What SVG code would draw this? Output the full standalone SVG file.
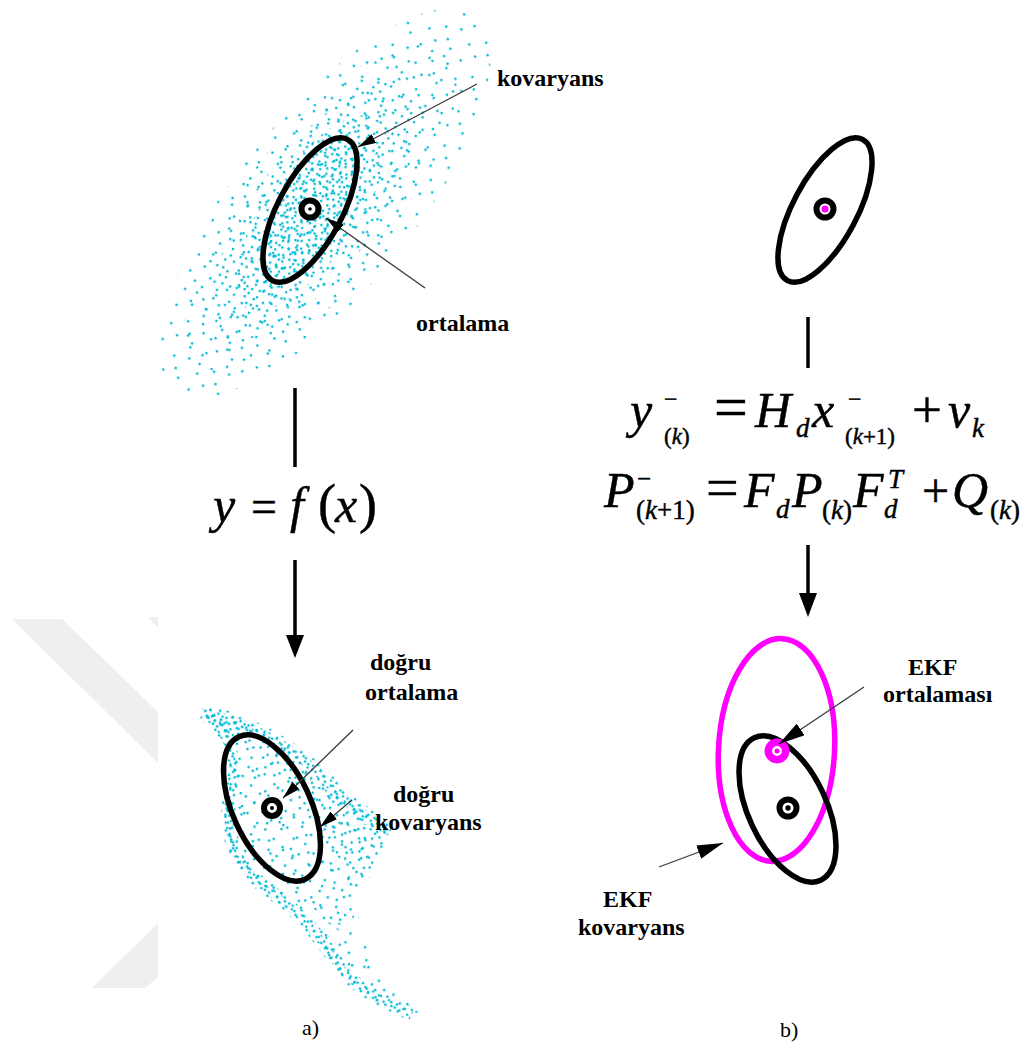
<svg xmlns="http://www.w3.org/2000/svg" width="1027" height="1048" viewBox="0 0 1027 1048">
<style>
.lbl{font-family:"Liberation Serif","Times New Roman",serif;font-weight:bold;font-size:24px;fill:#000}
.cap{font-family:"Liberation Serif","Times New Roman",serif;font-size:22px;fill:#000}
.m{font-family:"Liberation Serif","Times New Roman",serif;fill:#000;stroke:#000;stroke-width:0.45}
.i{font-style:italic}
.ell{fill:none;stroke:#000;stroke-width:5.5}
.ring{fill:#fff;stroke:#000;stroke-width:6}
.ptr{stroke:#3a3a3a;stroke-width:1.3;fill:none}
.bar{stroke:#000;stroke-width:3.5}
.wm{fill:#efefef}
.d{fill:#08bcd6}
</style>
<defs>
<pattern id="pA" width="41" height="37" patternUnits="userSpaceOnUse" patternTransform="rotate(17)">
<g class="d"><rect x="3" y="5" width="2.3" height="2.3"/><rect x="19" y="2" width="2.3" height="2.3"/><rect x="33" y="12" width="2.3" height="2.3"/><rect x="10" y="21" width="2.3" height="2.3"/><rect x="26" y="26" width="2.3" height="2.3"/><rect x="37" y="31" width="2.3" height="2.3"/><rect x="15" y="33" width="2.3" height="2.3"/></g>
</pattern>
<pattern id="pE" width="37" height="43" patternUnits="userSpaceOnUse" patternTransform="rotate(73)">
<g class="d"><rect x="5" y="2" width="2.3" height="2.3"/><rect x="22" y="7" width="2.3" height="2.3"/><rect x="31" y="19" width="2.3" height="2.3"/><rect x="13" y="17" width="2.3" height="2.3"/><rect x="2" y="30" width="2.3" height="2.3"/><rect x="24" y="33" width="2.3" height="2.3"/><rect x="16" y="39" width="2.3" height="2.3"/></g>
</pattern>
<pattern id="pB" width="31" height="29" patternUnits="userSpaceOnUse" patternTransform="rotate(-23)">
<g class="d"><rect x="2" y="3" width="2.3" height="2.3"/><rect x="16" y="8" width="2.3" height="2.3"/><rect x="27" y="2" width="2.3" height="2.3"/><rect x="7" y="16" width="2.3" height="2.3"/><rect x="21" y="19" width="2.3" height="2.3"/><rect x="12" y="25" width="2.3" height="2.3"/><rect x="28" y="24" width="2.3" height="2.3"/></g>
</pattern>
<pattern id="pC" width="23" height="19" patternUnits="userSpaceOnUse" patternTransform="rotate(41)">
<g class="d"><rect x="1" y="2" width="2.3" height="2.3"/><rect x="12" y="5" width="2.3" height="2.3"/><rect x="19" y="12" width="2.3" height="2.3"/><rect x="6" y="13" width="2.3" height="2.3"/><rect x="15" y="16" width="2.3" height="2.3"/></g>
</pattern>
<pattern id="pD" width="15" height="14" patternUnits="userSpaceOnUse" patternTransform="rotate(-61)">
<g class="d"><rect x="2" y="1" width="2.3" height="2.3"/><rect x="9" y="4" width="2.3" height="2.3"/><rect x="5" y="9" width="2.3" height="2.3"/><rect x="12" y="11" width="2.3" height="2.3"/></g>
</pattern>
<pattern id="pF" width="9" height="8" patternUnits="userSpaceOnUse" patternTransform="rotate(29)">
<g class="d"><rect x="1" y="1" width="2.3" height="2.3"/><rect x="5" y="5" width="2.3" height="2.3"/></g>
</pattern>
<marker id="ah" markerUnits="userSpaceOnUse" markerWidth="18" markerHeight="10" refX="18" refY="5" orient="auto" viewBox="0 0 18 10"><path d="M0,0 L18,5 L0,10 z" fill="#000"/></marker>
<marker id="ahL" markerUnits="userSpaceOnUse" markerWidth="26" markerHeight="14" refX="26" refY="7" orient="auto" viewBox="0 0 26 14"><path d="M0,0 L26,7 L0,14 z" fill="#000"/></marker>
</defs>
<rect width="1027" height="1048" fill="#fff"/>
<g id="watermark">
<polygon class="wm" points="12,619 62,619 158,712 158,763"/>
<polygon class="wm" points="148,617 158,617 158,628"/>
<polygon class="wm" points="158,923 92,988 145,988 158,977"/>
</g>
<g id="cloud-top">
<ellipse cx="325" cy="203" rx="88" ry="240" transform="rotate(39 325 203)" fill="url(#pE)"/>
<ellipse cx="320" cy="207" rx="75" ry="200" transform="rotate(38 320 207)" fill="url(#pA)"/>
<ellipse cx="315" cy="211" rx="60" ry="155" transform="rotate(37 315 211)" fill="url(#pB)"/>
<ellipse cx="311" cy="213" rx="46" ry="115" transform="rotate(35 311 213)" fill="url(#pC)"/>
<ellipse cx="309" cy="213" rx="32" ry="85" transform="rotate(31 309 213)" fill="url(#pD)"/>
</g>
<g id="cloud-bottom">
<polygon fill="url(#pA)" points="202,712 243,723 287,747 310,773 347,800 390,830 377,863 360,897 358,925 375,955 395,985 420,1012 405,1015 367,997 340,980 327,957 307,930 287,907 260,887 243,870 227,850 222,823 228,790 237,750"/>
<polygon fill="url(#pB)" points="202,712 243,723 287,747 310,773 347,800 390,830 377,863 360,897 350,930 330,920 300,900 260,887 243,870 227,850 222,823 228,790 237,750"/>
<polygon fill="url(#pC)" points="243,723 287,747 310,773 347,800 390,830 377,863 360,880 330,850 300,800 260,750"/>
<polygon fill="url(#pE)" points="300,900 340,930 360,960 400,1000 380,1005 340,975 320,945"/>
<path d="M204,713 C232,735 236,760 230,795 C224,830 232,862 268,890 C300,912 318,935 335,960 C350,985 380,1000 412,1014" fill="none" stroke="url(#pF)" stroke-width="8"/>
<path d="M204,713 C232,735 236,760 230,795 C224,830 232,862 268,890 C300,912 318,935 335,960 C350,985 380,1000 412,1014" fill="none" stroke="url(#pD)" stroke-width="14"/>
<path d="M202,712 C250,722 300,750 335,790 C355,810 375,822 390,832" fill="none" stroke="url(#pF)" stroke-width="9"/>
<path d="M202,712 C250,722 300,750 335,790 C355,810 375,822 390,832" fill="none" stroke="url(#pD)" stroke-width="16"/>
<path d="M204,713 L245,727 L238,745 Z" fill="url(#pF)"/>
</g>
<g id="ellipse-top-left">
<ellipse class="ell" cx="310" cy="210" rx="32" ry="80" transform="rotate(28 310 210)"/>
<circle class="ring" cx="310" cy="209" r="8.5"/>
<circle cx="310" cy="209" r="1.8" fill="#000"/>
</g>
<g id="ellipse-top-right">
<ellipse class="ell" cx="825" cy="210" rx="32" ry="80" transform="rotate(28 825 210)"/>
<circle class="ring" cx="825" cy="209" r="8.5"/>
<circle cx="825" cy="209" r="3.5" fill="#ff00ff"/>
</g>
<g id="ellipse-bottom-left">
<ellipse class="ell" cx="272" cy="808" rx="39" ry="78.5" transform="rotate(-25 272 808)"/>
<circle class="ring" cx="272" cy="808" r="8"/>
<circle cx="272" cy="808" r="2" fill="#000"/>
</g>
<g id="ellipse-bottom-right">
<ellipse cx="776.5" cy="750" rx="58" ry="111.5" transform="rotate(3 776.5 750)" fill="none" stroke="#ff00ff" stroke-width="5.5"/>
<ellipse class="ell" cx="787.5" cy="809" rx="39" ry="78.5" transform="rotate(-25 787.5 809)"/>
<circle class="ring" cx="788" cy="808" r="8.5"/>
<circle cx="788" cy="808" r="2.7" fill="#000"/>
<circle cx="777" cy="751" r="8.7" fill="#fff" stroke="#ff00ff" stroke-width="7.5"/>
<circle cx="777" cy="751" r="2.5" fill="#ff00ff"/>
</g>
<g id="connectors">
<polyline class="ptr" points="477,84 462,92 358,147" marker-end="url(#ah)"/>
<line class="ptr" x1="425" y1="288" x2="326" y2="218" marker-end="url(#ah)"/>
<line class="ptr" x1="353" y1="730" x2="283" y2="798" marker-end="url(#ah)"/>
<line class="ptr" x1="352" y1="800" x2="320" y2="827" marker-end="url(#ah)"/>
<line class="ptr" x1="864" y1="687" x2="779" y2="744" marker-end="url(#ahL)"/>
<line class="ptr" x1="659" y1="867" x2="723" y2="843" marker-end="url(#ahL)"/>
<line class="bar" x1="295" y1="388" x2="295" y2="467"/>
<line class="bar" x1="295" y1="560" x2="295" y2="640"/>
<polygon points="286,635 304,635 295,658" fill="#000"/>
<line class="bar" x1="808" y1="317" x2="808" y2="368"/>
<line class="bar" x1="808" y1="545" x2="808" y2="597"/>
<polygon points="799,593 817,593 808,617" fill="#000"/>
</g>
<g id="labels">
<text class="lbl" x="497" y="86">kovaryans</text>
<text class="lbl" x="416" y="331">ortalama</text>
<text class="lbl" x="370" y="670">doğru</text>
<text class="lbl" x="365" y="700">ortalama</text>
<text class="lbl" x="393" y="802">doğru</text>
<text class="lbl" x="375" y="830">kovaryans</text>
<text class="lbl" x="908" y="675">EKF</text>
<text class="lbl" x="883" y="702">ortalaması</text>
<text class="lbl" x="603" y="907">EKF</text>
<text class="lbl" x="578" y="935">kovaryans</text>
<text class="cap" x="302" y="1035">a)</text>
<text class="cap" x="780" y="1037">b)</text>
</g>
<g id="eq-fx">
<text class="m" font-size="50"><tspan class="i" x="213" y="522">y</tspan><tspan x="251" y="522" font-size="46">=</tspan><tspan class="i" x="290" y="522">f</tspan><tspan x="318" y="522" font-size="54">(</tspan><tspan class="i" x="335" y="522">x</tspan><tspan x="359" y="522" font-size="54">)</tspan></text>
</g>
<g id="eq-ekf">
<text class="m" font-size="50"><tspan class="i" x="630" y="427">y</tspan><tspan x="664" y="407" font-size="24">−</tspan><tspan x="664" y="444" font-size="23">(</tspan><tspan class="i" font-size="23">k</tspan><tspan font-size="23">)</tspan><tspan x="714" y="427" font-size="60">=</tspan><tspan class="i" x="755" y="427">H</tspan><tspan class="i" x="796" y="437" font-size="27">d</tspan><tspan class="i" x="812" y="427">x</tspan><tspan x="848" y="407" font-size="24">−</tspan><tspan x="845" y="444" font-size="23">(</tspan><tspan class="i" font-size="23">k</tspan><tspan font-size="23">+1)</tspan><tspan x="912" y="427" font-size="53">+</tspan><tspan class="i" x="948" y="427">v</tspan><tspan class="i" x="972" y="437" font-size="27">k</tspan></text>
<text class="m" font-size="50"><tspan class="i" x="604" y="507">P</tspan><tspan x="637" y="487" font-size="25">−</tspan><tspan x="636" y="519" font-size="27">(</tspan><tspan class="i" font-size="27">k</tspan><tspan font-size="27">+1)</tspan><tspan x="706" y="507" font-size="58">=</tspan><tspan class="i" x="744" y="507">F</tspan><tspan class="i" x="776" y="518" font-size="27">d</tspan><tspan class="i" x="792" y="507">P</tspan><tspan x="822" y="519" font-size="27">(</tspan><tspan class="i" font-size="27">k</tspan><tspan font-size="27">)</tspan><tspan class="i" x="853" y="507">F</tspan><tspan class="i" x="888" y="488" font-size="27">T</tspan><tspan class="i" x="884" y="518" font-size="27">d</tspan><tspan x="922" y="507" font-size="48">+</tspan><tspan class="i" x="952" y="507">Q</tspan><tspan x="990" y="519" font-size="27">(</tspan><tspan class="i" font-size="27">k</tspan><tspan font-size="27">)</tspan></text>
</g>
</svg>
